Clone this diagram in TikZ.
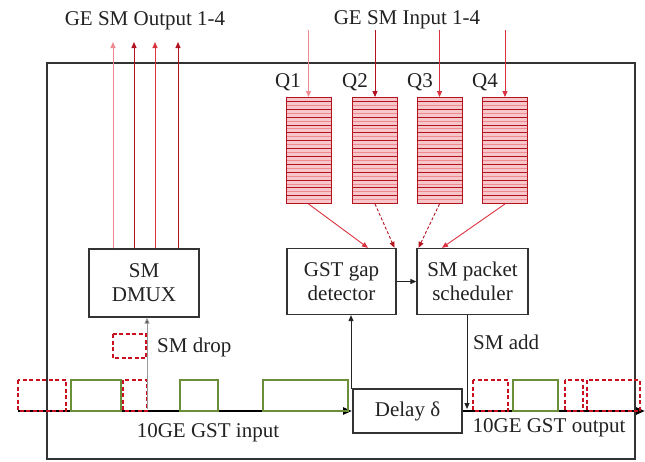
\documentclass[tikz,border=0pt]{standalone}
\usepackage{fontspec}
\setmainfont{Liberation Serif}
\usetikzlibrary{arrows.meta}

\definecolor{frame}{HTML}{333333}
\definecolor{ink}{HTML}{222222}
\definecolor{qdark}{HTML}{B3121F}
\definecolor{qmid}{HTML}{D9333F}
\definecolor{qlight}{HTML}{EE8A92}
\definecolor{qpink}{HTML}{F7C6CA}
\definecolor{pktgreen}{HTML}{6B8E3A}
\definecolor{pktred}{HTML}{C8101E}

\tikzset{
  lbl/.style={font=\fontsize{21}{23}\selectfont, text=ink, inner sep=0pt},
  block/.style={draw=frame, line width=1.3pt, fill=white, align=center,
    font=\fontsize{21}{24}\selectfont, text=ink, inner sep=0pt},
  queue/.style={draw=qdark, fill=qpink, line width=0.9pt, inner sep=0pt,
    minimum width=45pt, minimum height=106pt,
    path picture={
      \foreach \k in {1,...,26}{
        \ifodd\k \def\qc{qdark}\else\def\qc{qlight}\fi
        \draw[\qc, line width=0.9pt]
          ([yshift=-\k*3.93pt]path picture bounding box.north west) --
          ([yshift=-\k*3.93pt]path picture bounding box.north east);
      }}},
  redarrow/.style={line width=0.9pt, -{Triangle[length=6pt,width=5pt]}},
  blkarrow/.style={line width=1pt, draw=ink, -{Triangle[length=6pt,width=5pt]}},
  pkt/.style={draw=pktgreen, line width=1.6pt},
  gappkt/.style={draw=pktred, line width=2pt, dash pattern=on 4pt off 2.5pt},
  wire/.style={draw=black, line width=2.8pt}
}

\begin{document}
\begin{tikzpicture}[x=1pt,y=-1pt]
\useasboundingbox (0,0) rectangle (645,461);

% enclosure of the node
\draw[frame, line width=1.5pt] (47,63) rectangle (635,459);

% functional blocks
\node[block, minimum width=110pt, minimum height=68pt] (dmux) at (144,283) {SM\\DMUX};
\node[block, minimum width=109pt, minimum height=66pt] (gap) at (341.5,281.5) {GST gap\\detector};
\node[block, minimum width=111pt, minimum height=66pt] (sched) at (472.5,281.5) {SM packet\\scheduler};

% SM input queues
\node[queue] (q1) at (308.5,150.5) {};
\node[queue] (q2) at (375,150.5) {};
\node[queue] (q3) at (439.5,150.5) {};
\node[queue] (q4) at (505,150.5) {};
\node[lbl] (lq1) at (288,82) {Q1};
\node[lbl] (lq2) at (355,82) {Q2};
\node[lbl] (lq3) at (420,82) {Q3};
\node[lbl] (lq4) at (485,82) {Q4};

% external SM ports
\node[lbl] (outlbl) at (145,21) {GE SM Output 1-4};
\node[lbl] (inlbl) at (407,20) {GE SM Input 1-4};
\coordinate (o1) at (113,42);
\coordinate (o2) at (134,42);
\coordinate (o3) at (155,42);
\coordinate (o4) at (178,42);
\draw[redarrow, qlight] (dmux.north -| o1) -- (o1);
\draw[redarrow, qdark] (dmux.north -| o2) -- (o2);
\draw[redarrow, qmid] (dmux.north -| o3) -- (o3);
\draw[redarrow, qdark] (dmux.north -| o4) -- (o4);

\coordinate (i1) at (308.5,30);
\coordinate (i2) at (375,30);
\coordinate (i3) at (439.5,30);
\coordinate (i4) at (505,30);
\draw[redarrow, qlight] (i1) -- (q1.north);
\draw[redarrow, qdark] (i2) -- (q2.north);
\draw[redarrow, qmid] (i3) -- (q3.north);
\draw[redarrow, qmid] (i4) -- (q4.north);

% queues towards detector and scheduler
\draw[redarrow, qmid] (q1.south) -- ([xshift=26.5pt]gap.north);
\draw[redarrow, qdark, densely dashed] (q2.south) -- ([xshift=53pt]gap.north);
\draw[redarrow, qdark, densely dashed] (q3.south) -- ([xshift=-54pt]sched.north);
\draw[redarrow, qmid] (q4.south) -- ([xshift=-30.5pt]sched.north);

% detector to scheduler
\draw[blkarrow] (gap.east) -- (sched.west);

% delay line
\node[block, line width=2pt, minimum width=109pt, minimum height=44pt] (delay) at (407.5,411) {Delay δ};

% GST wavelength, input side
\coordinate (inStart) at (18,411);
\coordinate (outEnd) at (645,411);
\draw[wire, -{Triangle[length=9pt,width=7pt]}] (inStart) -- (delay.west);
\draw[wire, -{Triangle[length=9pt,width=7pt]}] (delay.east) -- (outEnd);

\draw[gappkt] (18,380) rectangle (66,411);
\draw[pkt] (71,380) rectangle (121,411);
\draw[gappkt] (123,380) rectangle (147,411);
\draw[pkt] (180,380) rectangle (218,411);
\draw[pkt] (263,380) rectangle (348,411);

% GST wavelength, output side
\draw[gappkt] (473,380) rectangle (508,411);
\draw[pkt] (513,380) rectangle (558,411);
\draw[gappkt] (565,380) rectangle (583,411);
\draw[gappkt] (587,380) rectangle (640,411);

% drop towards the demultiplexer
\coordinate (dropfoot) at (147,409);
\draw[line width=1pt, draw=black!40, -{Triangle[length=6pt,width=5pt,fill=ink]}] (dropfoot) -- (dropfoot |- dmux.south);
\draw[gappkt, line width=1.8pt] (113,334) rectangle (146,358);
\node[lbl, anchor=west] (droplbl) at (157,347) {SM drop};

% tap towards the gap detector
\coordinate (tap) at (351,389);
\draw[blkarrow] (tap) -- (tap |- gap.south);

% add from the scheduler
\coordinate (addfoot) at (467,409);
\draw[blkarrow] (sched.south -| addfoot) -- (addfoot);
\node[lbl, anchor=west] (addlbl) at (473,342) {SM add};

% line labels
\node[lbl] (inname) at (208,433) {10GE GST input};
\node[lbl] (outname) at (549,428) {10GE GST output};
\end{tikzpicture}
\end{document}
